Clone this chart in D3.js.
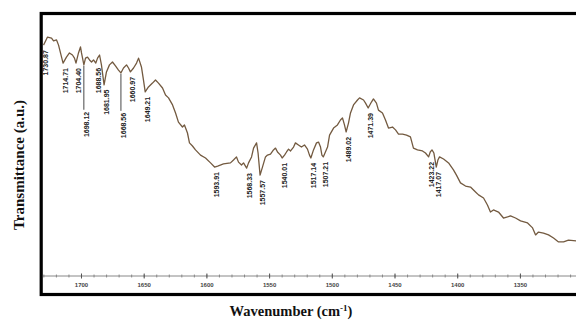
<!DOCTYPE html>
<html>
<head>
<meta charset="utf-8">
<script src="https://cdn.jsdelivr.net/npm/d3@7"></script>
<style>
  body { margin: 0; background: #fff; overflow: hidden; }
  svg { display: block; }
  .tick-label { font-family: "Liberation Sans", Arial, sans-serif; font-size: 6px; font-weight: bold; fill: #444; }
  .peak { font-family: "Liberation Sans", Arial, sans-serif; font-size: 7px; font-weight: bold; fill: #222; }
  .title { font-family: "Liberation Serif", "Times New Roman", serif; font-weight: bold; fill: #111; }
</style>
</head>
<body>
<svg width="576" height="327"></svg>
<script>
// FTIR spectrum, values
var wavenumber = [1730.3,1727.1,1723.9,1722.3,1719.9,1718.3,1715.9,1714.7,1712.0,1709.6,1707.2,1705.6,1704.4,1702.4,1700.8,1700.0,
  1698.1,1696.8,1695.2,1693.6,1692.0,1690.4,1688.6,1687.2,1685.6,1684.1,1682.0,1680.1,1677.7,1675.3,1672.9,1670.5,1668.6,
  1666.5,1664.1,1662.5,1661.0,1658.5,1656.1,1654.5,1652.2,1650.6,1649.2,1646.6,1643.4,1641.0,1638.6,1635.4,1633.0,1630.6,
  1627.4,1625.0,1622.7,1619.5,1617.9,1615.5,1613.9,1611.5,1609.1,1605.1,1601.1,1597.1,1593.9,1591.4,1586.8,1581.2,1578.8,
  1576.4,1574.8,1572.4,1570.8,1568.3,1566.8,1564.4,1562.8,1560.4,1559.2,1557.6,1555.7,1553.3,1551.7,1549.3,1546.9,1545.3,
  1543.7,1541.3,1540.0,1538.1,1536.5,1534.9,1533.3,1530.9,1529.4,1527.0,1524.6,1522.2,1519.8,1518.2,1517.1,1515.0,1512.6,
  1511.0,1509.4,1508.3,1507.2,1503.8,1502.2,1499.0,1495.9,1493.5,1491.9,1490.3,1489.0,1487.1,1485.5,1483.1,1479.9,1478.3,
  1475.1,1473.5,1471.4,1468.8,1467.2,1464.8,1463.2,1460.0,1457.6,1455.2,1452.0,1449.6,1447.2,1444.0,1440.8,1437.7,1435.3,
  1432.1,1428.1,1425.7,1423.2,1421.9,1420.5,1419.0,1417.1,1415.8,1414.5,1411.3,1407.3,1403.4,1401.0,1397.8,1393.8,1389.8,
  1385.8,1383.4,1379.4,1376.3,1373.9,1371.5,1367.5,1363.5,1360.3,1357.9,1353.9,1349.9,1344.3,1340.3,1337.9,1335.6,1331.6,
  1327.6,1323.6,1319.6,1315.6,1311.7,1305.3,1301.0];
var transmittance = [88.8,91.9,91.5,90.4,90.8,88.8,84.2,81.9,84.2,85.8,85.0,83.8,81.9,85.8,88.1,85.8,
  81.2,83.8,84.2,83.1,82.3,83.1,81.9,83.8,85.0,81.2,73.5,78.5,81.2,82.3,80.8,79.2,78.1,
  80.0,81.2,80.0,78.5,80.0,81.9,83.8,80.4,75.4,70.8,72.7,74.2,75.4,74.2,72.3,69.6,68.5,
  65.8,62.7,59.2,57.3,58.1,55.0,51.2,50.0,48.5,46.5,45.4,43.5,41.9,42.3,43.1,43.5,44.6,
  45.8,43.8,42.7,43.5,41.5,43.5,45.8,49.2,51.2,47.3,38.8,41.9,45.8,46.5,46.9,48.5,49.2,
  47.7,46.5,45.4,46.5,47.7,48.8,48.1,49.6,51.2,50.4,49.6,50.4,48.8,46.5,45.4,48.5,51.2,
  51.5,49.6,46.5,45.8,49.6,54.2,56.9,58.1,60.0,60.8,58.1,55.4,58.8,62.7,65.8,67.7,68.5,
  67.7,66.5,64.6,66.9,68.1,66.5,63.8,62.7,60.0,56.9,57.3,56.2,54.6,54.6,54.2,53.5,49.2,
  48.5,48.1,47.3,45.8,47.7,48.5,47.3,41.9,44.6,45.8,45.0,43.5,40.8,38.8,35.8,34.6,34.2,
  32.3,31.2,30.0,27.3,24.6,25.4,24.6,22.3,22.7,23.1,22.3,21.2,20.4,18.5,15.8,16.9,16.5,
  15.8,14.6,13.1,13.1,13.8,13.5,13.6];

var peakLabels = ["1730.87","1714.71","1704.40","1698.12","1688.56","1681.95","1668.56","1660.97","1649.21",
  "1593.91","1568.33","1557.57","1540.01","1517.14","1507.21","1489.02","1471.39","1423.22","1417.07"];
var tickValues = [1700,1650,1600,1550,1500,1450,1400,1350,1300];

var leaderLength = {"1698.12": 45, "1668.56": 38};

var svg = d3.select("svg"),
    plotLeft = 43, plotRight = 584, plotTop = 16, plotBottom = 276;

var x = d3.scaleLinear().domain([1730.7, 1299.3]).range([plotLeft, plotRight]);
var y = d3.scaleLinear().domain([0, 100]).range([plotBottom, plotTop]);

var data = wavenumber.map(function(w, i) { return {w: w, t: transmittance[i]}; });

svg.append("clipPath").attr("id", "clip")
  .append("rect").attr("x", plotLeft).attr("y", plotTop - 4)
  .attr("width", 576 - plotLeft).attr("height", plotBottom - plotTop + 4);

// axis line + ticks
var g = svg.append("g");
g.append("line").attr("x1", plotLeft).attr("x2", plotRight).attr("y1", plotBottom).attr("y2", plotBottom)
  .attr("stroke", "#888").attr("stroke-width", 1);

var minor = d3.range(1300, 1731, 10);
g.selectAll(".minor").data(minor).enter().append("line")
  .attr("x1", function(d) { return x(d); }).attr("x2", function(d) { return x(d); })
  .attr("y1", plotBottom - 1.5).attr("y2", plotBottom + 1.5)
  .attr("stroke", "#777").attr("stroke-width", 0.8);
g.selectAll(".major").data(tickValues).enter().append("line")
  .attr("x1", function(d) { return x(d); }).attr("x2", function(d) { return x(d); })
  .attr("y1", plotBottom - 2.5).attr("y2", plotBottom + 2.5)
  .attr("stroke", "#555").attr("stroke-width", 1);
g.selectAll(".tick-label").data(tickValues).enter().append("text")
  .attr("class", "tick-label")
  .attr("x", function(d) { return x(d); }).attr("y", plotBottom + 10.5)
  .attr("text-anchor", "middle")
  .text(function(d) { return d; });

// spectrum
var line = d3.line().x(function(d) { return x(d.w); }).y(function(d) { return y(d.t); });
svg.append("path").datum(data)
  .attr("clip-path", "url(#clip)")
  .attr("fill", "none")
  .attr("stroke", "#735a40")
  .attr("stroke-width", 1.3)
  .attr("stroke-linejoin", "round")
  .attr("d", line);

// value of curve at a wavenumber
var bis = d3.bisector(function(d) { return -d.w; }).left;
function valueAt(w) {
  var i = bis(data, -w);
  if (i <= 0) return data[0].t;
  if (i >= data.length) return data[data.length - 1].t;
  var a = data[i - 1], b = data[i];
  var k = (w - a.w) / (b.w - a.w);
  return a.t + k * (b.t - a.t);
}

var peaks = svg.append("g").selectAll("g").data(peakLabels).enter().append("g");
peaks.each(function(d) {
  var w = parseFloat(d), px = x(w), py = y(valueAt(w)) + 5;
  var sel = d3.select(this);
  if (leaderLength[d]) {
    sel.append("line").attr("x1", px).attr("x2", px)
      .attr("y1", py - 4).attr("y2", py + leaderLength[d] - 5)
      .attr("stroke", "#333").attr("stroke-width", 0.9);
    py += leaderLength[d] - 3;
  }
  sel.append("text").attr("class", "peak")
    .attr("transform", "translate(" + px + "," + py + ") rotate(-90)")
    .attr("text-anchor", "end")
    .attr("dy", "0.7em")
    .text(d);
});

// frame
svg.append("rect").attr("x", 41.2).attr("y", 13.5).attr("width", 600 - 41.2).attr("height", 281)
  .attr("fill", "none").attr("stroke", "#000").attr("stroke-width", 3.2);

// titles
var xt = svg.append("text").attr("class", "title")
  .attr("x", 291).attr("y", 316).attr("text-anchor", "middle").style("font-size", "14.5px");
xt.append("tspan").text("Wavenumber (cm");
xt.append("tspan").attr("dy", -5).style("font-size", "9px").text("-1");
xt.append("tspan").attr("dy", 5).text(")");

svg.append("text").attr("class", "title")
  .attr("transform", "translate(24,165) rotate(-90)")
  .attr("text-anchor", "middle").style("font-size", "15px")
  .text("Transmittance (a.u.)");
</script>
</body>
</html>
